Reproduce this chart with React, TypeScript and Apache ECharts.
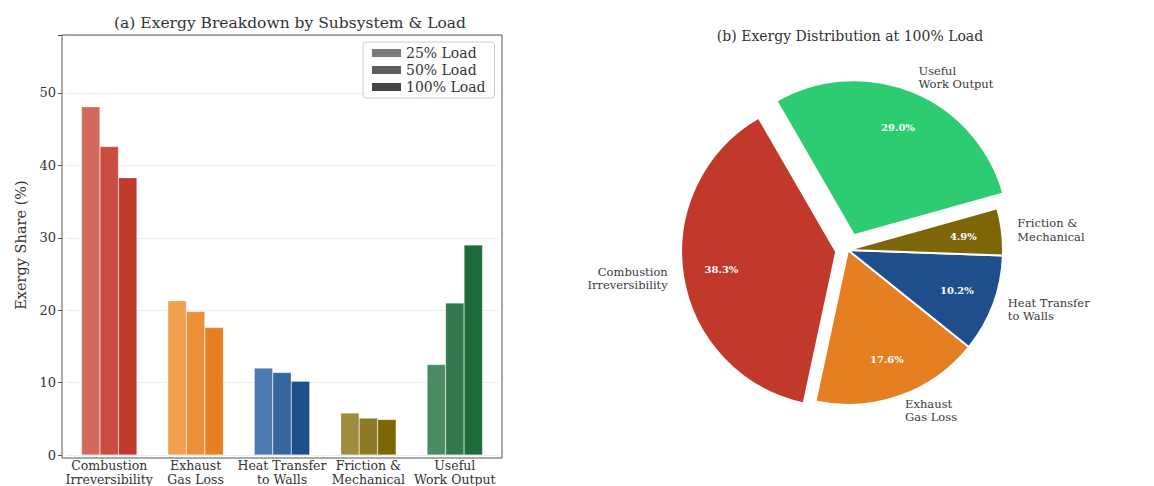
import React, { useEffect, useRef } from 'react';
import * as echarts from 'echarts';

const categories = ['Combustion\nIrreversibility', 'Exhaust\nGas Loss', 'Heat Transfer\nto Walls', 'Friction &\nMechanical', 'Useful\nWork Output'];
const loads = ['25% Load', '50% Load', '100% Load'];
const load25 = [48.1, 21.3, 12.0, 5.8, 12.5];
const load50 = [42.6, 19.8, 11.4, 5.1, 21.0];
const load100 = [38.3, 17.6, 10.2, 4.9, 29.0];
const colors25 = ['#d3695d', '#f0a04f', '#4d7baf', '#9f8c3e', '#4b8b63'];
const colors50 = ['#cb4d3f', '#ed8f38', '#36679f', '#8d7a24', '#33794f'];
const colors100 = ['#c0392b', '#e67e22', '#1f4e8c', '#7d6608', '#1e6b3c'];
const legendColors = ['#7a7a7a', '#5e5e5e', '#454545'];
const yTicks = [0, 10, 20, 30, 40, 50];

const pieNames = ['Combustion\nIrreversibility', 'Exhaust\nGas Loss', 'Heat Transfer\nto Walls', 'Friction &\nMechanical', 'Useful\nWork Output'];
const pieValues = load100;
const pieColors = ['#c0392b', '#e67e22', '#1f4e8c', '#7d6608', '#2ecc71'];
// explode group per slice: 0 = main group, 1 = separate offset group
const explodeGroup = [0, 0, 0, 0, 1];
const exploded = [true, false, false, false, true];

const FONT = 'DejaVu Serif';

export default function App() {
  const ref = useRef<HTMLDivElement>(null);
  useEffect(() => {
    if (!ref.current) return;
    const chart = echarts.init(ref.current, null, { renderer: 'svg' });
    const R = 155;
    const C = [848, 250];
    const groupOffsets = [12, 16];
    const loadData = [load25, load50, load100];
    const loadColors = [colors25, colors50, colors100];

    const pieSeries = (group: number, kind: 'slice' | 'pct') => ({
      type: 'pie',
      center: C,
      radius: kind === 'slice' ? [0, R] : [R * 0.46, R],
      startAngle: 120,
      clockwise: false,
      selectedMode: 'multiple',
      selectedOffset: groupOffsets[group],
      avoidLabelOverlap: false,
      silent: true,
      emphasis: { disabled: true },
      z: kind === 'slice' ? 2 : 3,
      labelLine: { show: false, length: R * 0.1, length2: 0 },
      data: pieValues.map((v, i) => {
        const on = explodeGroup[i] === group;
        return {
          value: v,
          name: pieNames[i],
          selected: exploded[i],
          itemStyle:
            kind === 'slice' && on
              ? { color: pieColors[i], borderColor: '#ffffff', borderWidth: 2 }
              : { color: 'transparent', borderWidth: 0 },
          label: !on
            ? { show: false }
            : kind === 'slice'
            ? {
                show: true,
                position: 'outside',
                formatter: '{b}',
                fontFamily: FONT,
                fontSize: 11.5,
                lineHeight: 13.5,
                color: '#3a3a3a',
                distanceToLabelLine: 0,
              }
            : {
                show: true,
                position: 'inside',
                formatter: (p: any) => p.percent.toFixed(1) + '%',
                fontFamily: FONT,
                fontSize: 10,
                fontWeight: 'bold',
                color: '#ffffff',
              },
        };
      }),
    });

    chart.setOption({
      animation: false,
      backgroundColor: '#ffffff',
      title: [
        {
          text: '(a) Exergy Breakdown by Subsystem & Load',
          left: 285,
          top: 10,
          textAlign: 'center',
          textStyle: { fontFamily: FONT, fontSize: 15.5, fontWeight: 'normal', color: '#333' },
        },
        {
          text: '(b) Exergy Distribution at 100% Load',
          left: 845,
          top: 24,
          textAlign: 'center',
          textStyle: { fontFamily: FONT, fontSize: 14, fontWeight: 'normal', color: '#333' },
        },
      ],
      legend: {
        data: loads,
        orient: 'vertical',
        left: 363,
        top: 42,
        padding: [4, 9],
        itemGap: 3,
        itemWidth: 29,
        itemHeight: 8,
        borderColor: '#cccccc',
        borderWidth: 1,
        borderRadius: 3,
        backgroundColor: 'rgba(255,255,255,0.8)',
        textStyle: { fontFamily: FONT, fontSize: 14, color: '#333' },
        icon: 'rect',
      },
      grid: { left: 66, top: 35, width: 432, height: 423 },
      xAxis: {
        type: 'category',
        data: categories,
        axisLine: { show: false },
        axisTick: { show: false },
        axisLabel: { fontFamily: FONT, fontSize: 12.5, color: '#333', lineHeight: 13.5, margin: 4, interval: 0 },
      },
      yAxis: {
        type: 'value',
        min: 0,
        max: 58,
        interval: 10,
        offset: 4,
        name: 'Exergy Share (%)',
        nameLocation: 'middle',
        nameGap: 34,
        nameTextStyle: { fontFamily: FONT, fontSize: 14.5, color: '#333' },
        axisLine: { show: false },
        axisTick: { show: true, length: 4, lineStyle: { color: '#555' } },
        axisLabel: {
          fontFamily: FONT,
          fontSize: 13,
          color: '#333',
          margin: 6,
          formatter: (v: number) => (yTicks.includes(v) ? String(v) : ''),
        },
        splitLine: { show: true, lineStyle: { color: '#ececec', width: 1 } },
      },
      graphic: [
        {
          type: 'rect',
          shape: { x: 62, y: 35, width: 440, height: 423 },
          style: { fill: 'none', stroke: '#555', lineWidth: 1 },
          z: 10,
          silent: true,
        },
      ],
      series: [
        ...loads.map((name, k) => ({
          type: 'bar',
          name,
          barWidth: 18.5,
          barGap: '0%',
          itemStyle: { color: legendColors[k] },
          data: loadData[k].map((v, i) => ({
            value: v,
            itemStyle: { color: loadColors[k][i], borderColor: 'rgba(255,255,255,0.5)', borderWidth: 0.5 },
          })),
        })),
        pieSeries(0, 'slice'),
        pieSeries(1, 'slice'),
        pieSeries(0, 'pct'),
        pieSeries(1, 'pct'),
      ],
    });
    return () => chart.dispose();
  }, []);
  return <div ref={ref} style={{ position: 'fixed', left: 0, top: 0, width: 1154, height: 486 }} />;
}
